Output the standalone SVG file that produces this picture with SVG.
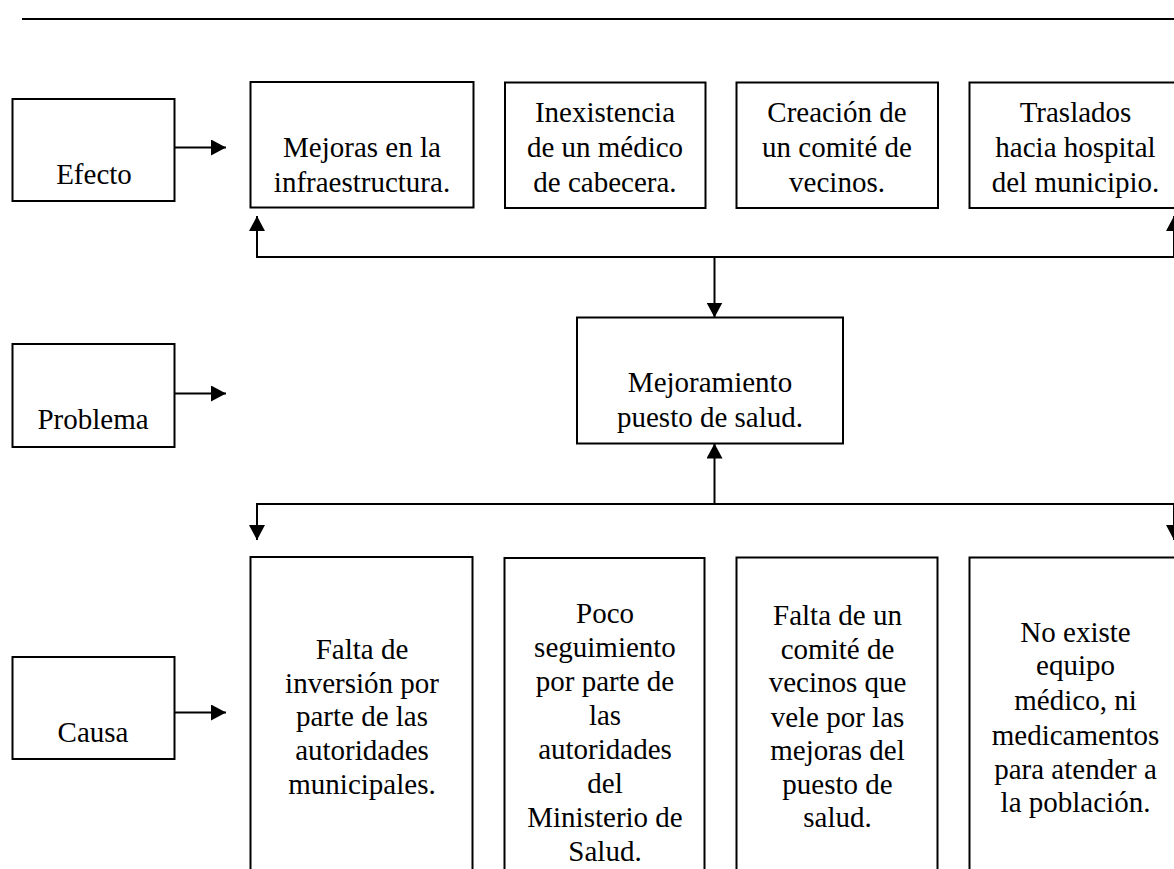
<svg xmlns="http://www.w3.org/2000/svg" width="1174" height="869" viewBox="0 0 1174 869">
<defs>
<style>
.box{fill:#fff;stroke:#000;stroke-width:2}
.ln{fill:none;stroke:#000;stroke-width:2}
text{font-family:"Liberation Serif","Times New Roman",serif;font-size:29px;fill:#000;text-anchor:middle}
</style>
<marker id="ah" markerUnits="userSpaceOnUse" markerWidth="16" markerHeight="16" refX="15" refY="8" orient="auto" viewBox="0 0 16 16">
<path d="M0,0 L15,8 L0,16 z" fill="#000"/>
</marker>
</defs>
<rect width="1174" height="869" fill="#fff"/>
<line x1="22" y1="19" x2="1174" y2="19" class="ln"/>

<g id="label-efecto">
<rect x="12.5" y="99" width="162" height="102" class="box"/>
<text x="94" y="184">Efecto</text>
</g>
<g id="label-problema">
<rect x="12.5" y="344" width="162" height="103" class="box"/>
<text x="93" y="429">Problema</text>
</g>
<g id="label-causa">
<rect x="12.5" y="657" width="162" height="102" class="box"/>
<text x="93" y="742">Causa</text>
</g>

<g id="efecto-1">
<rect x="250.5" y="82" width="223" height="125.5" class="box"/>
<text x="362" y="157">Mejoras en la</text>
<text x="362" y="191.5">infraestructura.</text>
</g>
<g id="efecto-2">
<rect x="505" y="82.5" width="200.5" height="125.5" class="box"/>
<text x="605" y="122">Inexistencia</text>
<text x="605" y="157">de un médico</text>
<text x="605" y="192">de cabecera.</text>
</g>
<g id="efecto-3">
<rect x="736.5" y="82.5" width="201.5" height="125.5" class="box"/>
<text x="837" y="122">Creación de</text>
<text x="837" y="157">un comité de</text>
<text x="837" y="192">vecinos.</text>
</g>
<g id="efecto-4">
<rect x="969.5" y="82.5" width="212" height="125.5" class="box"/>
<text x="1075.5" y="122">Traslados</text>
<text x="1075.5" y="157">hacia hospital</text>
<text x="1075.5" y="192">del municipio.</text>
</g>

<g id="problema">
<rect x="577" y="317.5" width="266" height="126" class="box"/>
<text x="710" y="392">Mejoramiento</text>
<text x="710" y="427">puesto de salud.</text>
</g>

<g id="causa-1">
<rect x="250.5" y="557" width="222" height="330" class="box"/>
<text x="362" y="658.5">Falta de</text>
<text x="362" y="692.5">inversión por</text>
<text x="362" y="726">parte de las</text>
<text x="362" y="760">autoridades</text>
<text x="362" y="793.5">municipales.</text>
</g>
<g id="causa-2">
<rect x="504.5" y="558" width="200" height="330" class="box"/>
<text x="605" y="622.5">Poco</text>
<text x="605" y="656.5">seguimiento</text>
<text x="605" y="690.5">por parte de</text>
<text x="605" y="725">las</text>
<text x="605" y="759">autoridades</text>
<text x="605" y="793">del</text>
<text x="605" y="827">Ministerio de</text>
<text x="605" y="860.5">Salud.</text>
</g>
<g id="causa-3">
<rect x="736.5" y="557.5" width="201" height="330" class="box"/>
<text x="837.5" y="625">Falta de un</text>
<text x="837.5" y="658.5">comité de</text>
<text x="837.5" y="692">vecinos que</text>
<text x="837.5" y="726.5">vele por las</text>
<text x="837.5" y="760">mejoras del</text>
<text x="837.5" y="793.5">puesto de</text>
<text x="837.5" y="827">salud.</text>
</g>
<g id="causa-4">
<rect x="969.5" y="557.5" width="212" height="330" class="box"/>
<text x="1075.5" y="641.5">No existe</text>
<text x="1075.5" y="675">equipo</text>
<text x="1075.5" y="710">médico, ni</text>
<text x="1075.5" y="745">medicamentos</text>
<text x="1075.5" y="778.5">para atender a</text>
<text x="1075.5" y="812">la población.</text>
</g>

<g id="connectors">
<line x1="175" y1="147.5" x2="226" y2="147.5" class="ln" marker-end="url(#ah)"/>
<line x1="175" y1="393.5" x2="226" y2="393.5" class="ln" marker-end="url(#ah)"/>
<line x1="175" y1="712.5" x2="226" y2="712.5" class="ln" marker-end="url(#ah)"/>
<line x1="257" y1="257" x2="1176" y2="257" class="ln"/>
<line x1="257" y1="258" x2="257" y2="216" class="ln" marker-end="url(#ah)"/>
<line x1="1174" y1="258" x2="1174" y2="216" class="ln" marker-end="url(#ah)"/>
<line x1="714.5" y1="256" x2="714.5" y2="317.5" class="ln" marker-end="url(#ah)"/>
<line x1="714.5" y1="505" x2="714.5" y2="443.5" class="ln" marker-end="url(#ah)"/>
<line x1="257" y1="504" x2="1176" y2="504" class="ln"/>
<line x1="257" y1="503" x2="257" y2="540" class="ln" marker-end="url(#ah)"/>
<line x1="1174" y1="503" x2="1174" y2="540" class="ln" marker-end="url(#ah)"/>
</g>
</svg>
